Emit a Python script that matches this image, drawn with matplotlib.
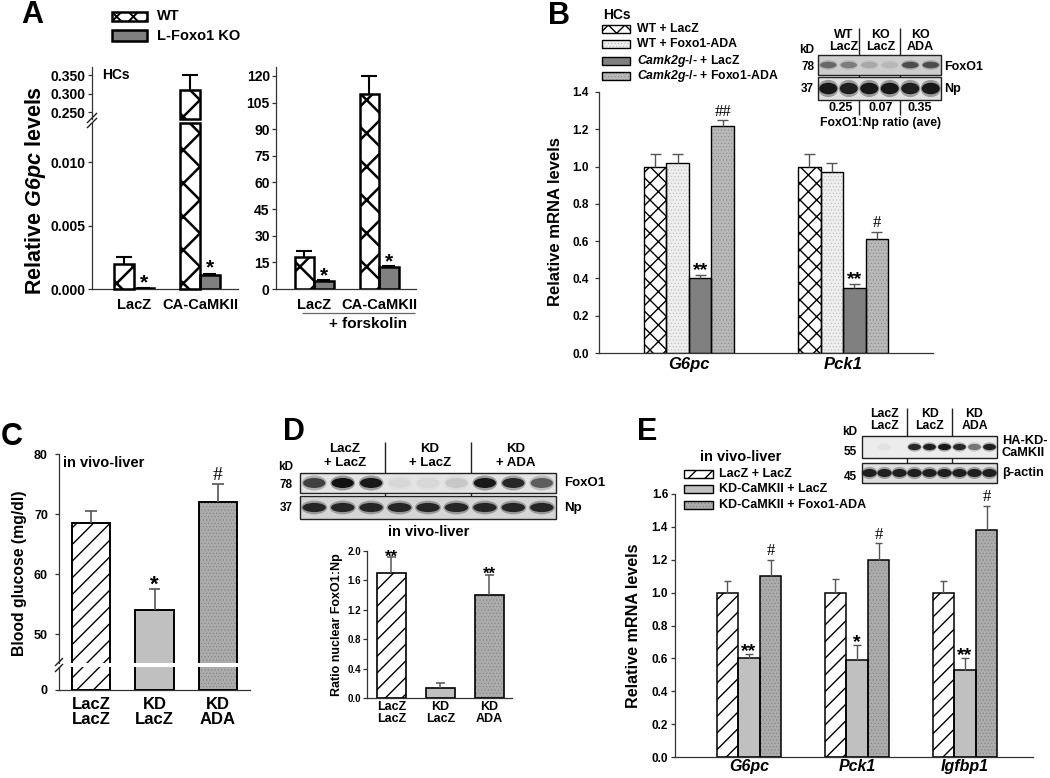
import numpy as np
import matplotlib
matplotlib.use("Agg")
import matplotlib.pyplot as plt
from matplotlib.patches import Rectangle, Ellipse

plt.rcParams["font.family"] = ["Liberation Sans", "DejaVu Sans"]
plt.rcParams["font.weight"] = "bold"
plt.rcParams["mathtext.fontset"] = "custom"
plt.rcParams["mathtext.it"] = "Liberation Sans:italic:bold"
plt.rcParams["mathtext.rm"] = "Liberation Sans:italic:bold"
plt.rcParams["mathtext.bf"] = "Liberation Sans:italic:bold"
plt.rcParams["hatch.linewidth"] = 1.0

W, H = 1050, 778

# ---------------- data ----------------
# A: relative G6pc in hepatocytes, WT vs L-Foxo1 KO
a_groups = ["LacZ", "CA-CaMKII"]
a_wt = [0.0020, 0.310]
a_wt_err = [0.0005, 0.040]
a_ko = [0.00008, 0.0011]
a_ko_err = [0.0, 0.0001]
a_fsk_wt = [18.0, 110.0]
a_fsk_wt_err = [3.5, 10.0]
a_fsk_ko = [4.5, 12.3]
a_fsk_ko_err = [0.4, 0.6]

# B: mRNA in HCs
b_genes = ["G6pc", "Pck1"]
b_series = ["WT + LacZ", "WT + Foxo1-ADA",
            r"$Camk2g$-/- + LacZ", r"$Camk2g$-/- + Foxo1-ADA"]
b_vals = [[1.00, 1.00], [1.02, 0.97], [0.40, 0.35], [1.22, 0.61]]
b_errs = [[0.07, 0.07], [0.05, 0.05], [0.02, 0.02], [0.03, 0.04]]
b_marks = [["", ""], ["", ""], ["**", "**"], ["##", "#"]]
b_lanes = ["WT\nLacZ", "KO\nLacZ", "KO\nADA"]
b_ratio = [0.25, 0.07, 0.35]
b_foxo1 = [0.45, 0.35, 0.15, 0.08, 0.60, 0.60]
b_np = [0.95, 0.90, 0.95, 0.95, 0.90, 0.95]

# C: blood glucose
c_groups = ["LacZ\nLacZ", "KD\nLacZ", "KD\nADA"]
c_glucose = [68.5, 54.0, 72.0]
c_err = [2.0, 3.5, 3.0]
c_marks = ["", "*", "#"]

# D: nuclear FoxO1
d_lanes = ["LacZ\n+ LacZ", "KD\n+ LacZ", "KD\n+ ADA"]
d_foxo1 = [0.70, 1.00, 0.95, 0.04, 0.04, 0.10, 0.95, 0.85, 0.55]
d_np = [0.85, 0.85, 0.85, 0.85, 0.85, 0.85, 0.85, 0.85, 0.85]
d_ratio = [1.70, 0.14, 1.40]
d_err = [0.22, 0.07, 0.28]
d_marks = ["**", "", "**"]

# E: in vivo liver mRNA
e_genes = ["G6pc", "Pck1", "Igfbp1"]
e_series = ["LacZ + LacZ", "KD-CaMKII + LacZ", "KD-CaMKII + Foxo1-ADA"]
e_vals = [[1.00, 1.00, 1.00], [0.605, 0.59, 0.53], [1.10, 1.20, 1.38]]
e_errs = [[0.07, 0.08, 0.07], [0.02, 0.09, 0.07], [0.10, 0.10, 0.15]]
e_marks = [["", "", ""], ["**", "*", "**"], ["#", "#", "#"]]
e_lanes = ["LacZ\nLacZ", "KD\nLacZ", "KD\nADA"]
e_ha = [0.0, 0.03, 0.0, 0.85, 0.90, 0.95, 0.85, 0.45, 0.90]
e_actin = [0.90, 0.90, 0.90, 0.90, 0.90, 0.90, 0.90, 0.90, 0.90]

# ---------------- styles ----------------
S_CROSS_A = dict(face="white", hatch="x", hcolor="black", hlw=1.8)
S_CROSS_KEY = dict(face="white", hatch="xx", hcolor="black", hlw=1.4)
S_GRAY_A = dict(face="#808080")
S_CROSS_B = dict(face="white", hatch="xx", hcolor="black", hlw=1.0)
S_LDOT = dict(face="#eeeeee", hatch=".....", hcolor="#b0b0b0", hlw=0.3)
S_DGRAY = dict(face="#808080")
S_DDOT = dict(face="#b8b8b8", hatch=".....", hcolor="#808080", hlw=0.3)
S_DIAG = dict(face="white", hatch="//", hcolor="black", hlw=1.0)
S_LGRAY = dict(face="#c0c0c0")
S_ADA = dict(face="#ababab", hatch=".....", hcolor="#7a7a7a", hlw=0.3)

fig = plt.figure(figsize=(W / 100, H / 100), dpi=100)
ov = fig.add_axes([0, 0, 1, 1])
ov.set_xlim(0, W)
ov.set_ylim(H, 0)
ov.axis("off")
ov.set_zorder(10)


def px_axes(x0, y0, x1, y1, lsize=9, pad=2, length=3):
    ax = fig.add_axes([x0 / W, 1 - y1 / H, (x1 - x0) / W, (y1 - y0) / H])
    ax.patch.set_alpha(0)
    for s in ["top", "right"]:
        ax.spines[s].set_visible(False)
    for s in ["left", "bottom"]:
        ax.spines[s].set_linewidth(0.9)
        ax.spines[s].set_color("#333333")
    ax.tick_params(axis="y", labelsize=lsize, pad=pad, length=length, width=0.9, color="#333333")
    ax.tick_params(axis="x", length=0)
    return ax


def set_hlw(p, lw):
    if hasattr(p, "set_hatch_linewidth"):
        p.set_hatch_linewidth(lw)


def bars(ax, x, h, w, st, elw, bottom=0.0, clip=True):
    with plt.rc_context({"hatch.linewidth": st.get("hlw", 1.0)}):
        bb = ax.bar(x, h, w, bottom=bottom, color=st["face"], edgecolor=st.get("hcolor", st["face"]),
                    hatch=st.get("hatch"), linewidth=0, zorder=2)
        for p in bb:
            set_hlw(p, st.get("hlw", 1.0))
    ob = ax.bar(x, h, w, bottom=bottom, fill=False, edgecolor="black", linewidth=elw, zorder=3)
    if not clip:
        for p in ob:
            p.set_clip_on(False)


def errs(ax, x, v, e, cap, color="#555555", lw=1.0):
    x = np.asarray(x, float)
    v = np.asarray(v, float)
    e = np.asarray(e, float)
    ax.vlines(x, v, v + e, color=color, lw=lw, zorder=4)
    ax.hlines(v + e, x - cap, x + cap, color=color, lw=lw, zorder=4)


def marks(ax, x, y, labels, dy, fs=14, serif_dy=None):
    for xi, yi, s in zip(x, y, labels):
        if not s:
            continue
        if s.startswith("#"):
            ax.annotate(s, (xi, yi), xytext=(0, serif_dy if serif_dy is not None else dy + 4),
                        textcoords="offset points", ha="center", va="center", fontsize=fs - 2,
                        family="Liberation Serif", weight="normal", annotation_clip=False)
        else:
            ax.annotate(s, (xi, yi), xytext=(0, dy), textcoords="offset points", ha="center",
                        va="center", fontsize=fs, annotation_clip=False)


def key(x0, y0, x1, y1, st, elw=1.0):
    with plt.rc_context({"hatch.linewidth": st.get("hlw", 1.0)}):
        p = Rectangle((x0, y0), x1 - x0, y1 - y0, facecolor=st["face"],
                      edgecolor=st.get("hcolor", st["face"]), hatch=st.get("hatch"), lw=0)
        set_hlw(p, st.get("hlw", 1.0))
        ov.add_patch(p)
    ov.add_patch(Rectangle((x0, y0), x1 - x0, y1 - y0, fill=False, edgecolor="black", lw=elw))


def T(x, y, s, fs, ha="center", va="center", **kw):
    ov.text(x, y, s, fontsize=fs, ha=ha, va=va, **kw)


def L(xs, ys, lw=1.0, color="#222222"):
    ov.plot(xs, ys, color=color, lw=lw, solid_capstyle="butt")


def blot_row(x0, x1, y0, y1, bands, bg, bw=0.8, bh=0.5):
    ov.add_patch(Rectangle((x0, y0), x1 - x0, y1 - y0, facecolor=bg, edgecolor="#222222", lw=1.0))
    step = (x1 - x0) / len(bands)
    cy = (y0 + y1) / 2
    for k, s in enumerate(bands):
        if s <= 0:
            continue
        cx = x0 + (k + 0.5) * step
        ov.add_patch(Ellipse((cx, cy), step * bw * 1.12, (y1 - y0) * bh * 1.5,
                             facecolor="#111111", alpha=0.35 * s, lw=0))
        ov.add_patch(Ellipse((cx, cy), step * bw, (y1 - y0) * bh,
                             facecolor="#111111", alpha=s, lw=0))
    return step


# ================= Panel A =================
xa = np.arange(len(a_groups))
wa = 0.30
lo, hi = 0.2324, 0.3714
axA = px_axes(92, 123, 238, 289, lsize=10, pad=1.5)
axA.set_xlim(-0.636, 1.576)
axA.set_ylim(0, 0.01309)
axAu = px_axes(92, 67, 238, 119, lsize=10, pad=1.5)
axAu.set_xlim(-0.636, 1.576)
axAu.set_ylim(lo, hi)
axAu.spines["bottom"].set_visible(False)
axAu.set_xticks([])

wt = np.array(a_wt)
ko = np.array(a_ko)
top = axA.get_ylim()[1]
bars(axA, xa - wa / 2, np.minimum(wt, top), wa, S_CROSS_A, 1.8, clip=False)
bars(axA, xa + wa / 2, ko, wa, S_GRAY_A, 1.8)
up = wt > lo
bars(axAu, (xa - wa / 2)[up], wt[up] - lo, wa, S_CROSS_A, 1.8, bottom=lo, clip=False)
errs(axA, (xa - wa / 2)[~up], wt[~up], np.array(a_wt_err)[~up], 0.12, "black", 1.5)
errs(axAu, (xa - wa / 2)[up], wt[up], np.array(a_wt_err)[up], 0.12, "black", 1.5)
errs(axA, xa + wa / 2, ko, a_ko_err, 0.1, "black", 1.5)
marks(axA, xa + wa / 2, ko + np.array(a_ko_err), ["*", "*"], 4, fs=15)
axA.set_yticks([0, 0.005, 0.010], ["0.000", "0.005", "0.010"])
axAu.set_yticks([0.25, 0.30, 0.35], ["0.250", "0.300", "0.350"])
axA.set_xticks(xa, a_groups, fontsize=10.5)
axA.tick_params(axis="x", pad=6.5)

axAr = px_axes(276, 67, 416, 289, lsize=10, pad=1.5)
axAr.set_xlim(-0.585, 1.569)
axAr.set_ylim(0, 125)
bars(axAr, xa - wa / 2, a_fsk_wt, wa, S_CROSS_A, 1.8)
bars(axAr, xa + wa / 2, a_fsk_ko, wa, S_GRAY_A, 1.8)
errs(axAr, xa - wa / 2, a_fsk_wt, a_fsk_wt_err, 0.12, "black", 1.5)
errs(axAr, xa + wa / 2, a_fsk_ko, a_fsk_ko_err, 0.1, "black", 1.5)
marks(axAr, xa + wa / 2, np.array(a_fsk_ko) + np.array(a_fsk_ko_err), ["*", "*"], 3, fs=15)
axAr.set_yticks(np.arange(0, 121, 15))
axAr.set_xticks(xa, a_groups, fontsize=10.5)
axAr.tick_params(axis="x", pad=6.5)

T(32, 15, "A", 22)
key(112, 12, 147, 21, S_CROSS_KEY, 1.8)
key(112, 30, 147, 41, S_GRAY_A, 1.8)
T(157, 16, "WT", 10.5, ha="left")
T(157, 36, "L-Foxo1 KO", 10.5, ha="left")
T(102, 75, "HCs", 10, ha="left")
T(36, 190, r"Relative $G6pc$ levels", 15.5, rotation=90)
L([87, 97], [123, 113], lw=1.0)
L([87, 97], [128, 118], lw=1.0)
L([302, 415], [313, 313], lw=0.9, color="#666666")
T(368, 324, "+ forskolin", 11)

# ================= Panel B =================
xb = np.arange(len(b_genes))
wb = 0.146
axB = px_axes(599, 92, 933, 353, lsize=8.5, pad=4.5)
axB.set_xlim(-0.584, 1.584)
axB.set_ylim(0, 1.4)
b_styles = [S_CROSS_B, S_LDOT, S_DGRAY, S_DDOT]
for i in range(4):
    xi = xb + (i - 1.5) * wb
    bars(axB, xi, b_vals[i], wb, b_styles[i], 1.0)
    errs(axB, xi, b_vals[i], b_errs[i], 0.035, "#555555", 1.0)
    marks(axB, xi, np.array(b_vals[i]) + np.array(b_errs[i]), b_marks[i], 3, fs=14, serif_dy=6)
axB.set_yticks(np.arange(0, 1.41, 0.2), [f"{t:.1f}" for t in np.arange(0, 1.41, 0.2)])
axB.set_xticks(xb, b_genes, fontsize=12, fontstyle="italic")
axB.tick_params(axis="x", pad=3)

T(559, 16, "B", 22)
T(603, 15, "HCs", 10, ha="left")
key_y = [(25, 33), (40, 48), (57, 65), (72, 80)]
for (y0, y1), st, lab in zip(key_y, b_styles, b_series):
    key(602, y0, 630, y1, st, 1.0)
    T(637, (y0 + y1) / 2, lab, 8.8, ha="left")
T(555, 222, "Relative mRNA levels", 12, rotation=90)

# B blot
step = blot_row(818, 941, 55, 75, b_foxo1, "#cdcdcd", bw=0.8, bh=0.32)
blot_row(818, 941, 77, 100, b_np, "#e0e0e0", bw=0.88, bh=0.5)
for xs in (818 + 2 * step, 818 + 4 * step):
    L([xs, xs], [28, 55])
    L([xs, xs], [75, 77])
    L([xs, xs], [100, 115])
for xc, lab in zip([844, 881, 920], b_lanes):
    T(xc, 41, lab, 9, linespacing=1.05)
for xc, r in zip([841, 881, 920], b_ratio):
    T(xc, 108, f"{r:.2f}", 9)
T(881, 123, "FoxO1:Np ratio (ave)", 8.8)
T(814, 50, "kD", 8.5, ha="right")
T(814, 67, "78", 8.5, ha="right")
T(814, 89, "37", 8.5, ha="right")
T(944, 67, "FoxO1", 9, ha="left")
T(944, 89, "Np", 9, ha="left")

# ================= Panel C =================
xc = np.arange(len(c_groups))
wc = 0.6
c_styles = [S_DIAG, S_LGRAY, S_ADA]
axC = px_axes(59, 454, 250, 663, lsize=9, pad=5, length=3)
axC.set_xlim(-0.504, 2.504)
axC.set_ylim(45.2, 80)
axC.spines["bottom"].set_visible(False)
axC.set_xticks([])
axCl = px_axes(59, 667, 250, 690, lsize=9, pad=5, length=3)
axCl.set_xlim(-0.504, 2.504)
axCl.set_ylim(0, 4)
for i in range(3):
    bars(axC, xc[i], c_glucose[i], wc, c_styles[i], 1.4)
    bars(axCl, xc[i], c_glucose[i], wc, c_styles[i], 1.4)
errs(axC, xc, c_glucose, c_err, 0.09, "#555555", 1.2)
marks(axC, xc, np.array(c_glucose) + np.array(c_err), c_marks, 3, fs=16, serif_dy=6)
axC.set_yticks([50, 60, 70, 80])
axCl.set_yticks([0])
axCl.set_xticks(xc, c_groups, fontsize=12, linespacing=1.0)
axCl.tick_params(axis="x", pad=5)
T(12, 437, "C", 22)
T(63, 463, "in vivo-liver", 10.5, ha="left")
T(20, 573, "Blood glucose (mg/dl)", 11.3, rotation=90)
L([55, 63], [666, 658], lw=1.0)
L([55, 63], [672, 664], lw=1.0)

# ================= Panel D =================
T(294, 432, "D", 22)
dstep = blot_row(300, 556, 473, 493, d_foxo1, "#e4e4e4", bw=0.78, bh=0.5)
blot_row(300, 556, 496, 519, d_np, "#d6d6d6", bw=0.82, bh=0.4)
for xs in (300 + 3 * dstep, 300 + 6 * dstep):
    L([xs, xs], [442, 473])
    L([xs, xs], [493, 496])
for k, lab in enumerate(d_lanes):
    T(300 + (3 * k + 1.5) * dstep + 2, 456, lab, 9.5, linespacing=1.15)
T(293, 467, "kD", 8.5, ha="right")
T(293, 485, "78", 8.5, ha="right")
T(293, 508, "37", 8.5, ha="right")
T(564, 483, "FoxO1", 9.5, ha="left")
T(564, 508, "Np", 9.5, ha="left")
T(429, 532, "in vivo-liver", 10.5)

xd = np.arange(len(d_ratio))
wd = 0.6
axD = px_axes(367, 551, 512, 698, lsize=7, pad=1.5, length=3)
axD.set_xlim(-0.5, 2.46)
axD.set_ylim(0, 2.0)
for i in range(3):
    bars(axD, xd[i], d_ratio[i], wd, c_styles[i], 1.2)
errs(axD, xd, d_ratio, d_err, 0.1, "#555555", 1.1)
marks(axD, xd, np.array(d_ratio) + np.array(d_err), d_marks, 0, fs=12)
axD.set_yticks(np.arange(0, 2.01, 0.4), [f"{t:.1f}" for t in np.arange(0, 2.01, 0.4)])
axD.set_xticks(xd, c_groups, fontsize=9, linespacing=1.05)
axD.tick_params(axis="x", pad=2)
T(337, 625, "Ratio nuclear FoxO1:Np", 9, rotation=90)

# ================= Panel E =================
xe = np.arange(len(e_genes))
we = 0.2
axE = px_axes(675, 494, 1033, 757, lsize=8.5, pad=2, length=3)
axE.set_xlim(-0.685, 2.63)
axE.set_ylim(0, 1.6)
e_styles = [S_DIAG, S_LGRAY, S_ADA]
for i in range(3):
    xi = xe + (i - 1) * we
    bars(axE, xi, e_vals[i], we, e_styles[i], 1.1)
    errs(axE, xi, e_vals[i], e_errs[i], 0.035, "#555555", 1.0)
    marks(axE, xi, np.array(e_vals[i]) + np.array(e_errs[i]), e_marks[i], 2, fs=14, serif_dy=6)
axE.set_yticks(np.arange(0, 1.61, 0.2), [f"{t:.1f}" for t in np.arange(0, 1.61, 0.2)])
axE.set_xticks(xe, e_genes, fontsize=11.5, fontstyle="italic")
axE.tick_params(axis="x", pad=1.5)
T(633, 626, "Relative mRNA levels", 11.6, rotation=90)
T(647, 432, "E", 22)
T(741, 457, "in vivo-liver", 10.5)
for (y0, y1), st, lab in zip([(470, 478), (485, 493), (501, 509)], e_styles, e_series):
    key(684, y0, 713, y1, st, 1.0)
    T(719, (y0 + y1) / 2, lab, 9, ha="left")

estep = blot_row(862, 997, 436, 458, e_ha, "#ececec", bw=0.85, bh=0.28)
blot_row(862, 997, 463, 483, e_actin, "#dedede", bw=0.95, bh=0.4)
for xs in (862 + 3 * estep, 862 + 6 * estep):
    L([xs, xs], [408, 436])
    L([xs, xs], [458, 463])
for k, lab in enumerate(e_lanes):
    T(862 + (3 * k + 1.5) * estep, 420, lab, 8.8, linespacing=1.05)
T(857, 432, "kD", 8.5, ha="right")
T(857, 452, "55", 8.5, ha="right")
T(857, 477, "45", 8.5, ha="right")
T(1002, 447, "HA-KD-\nCaMKII", 9.2, ha="left", linespacing=1.05)
T(1002, 473, "β-actin", 9.2, ha="left")

fig.savefig("out.png", dpi=100)
